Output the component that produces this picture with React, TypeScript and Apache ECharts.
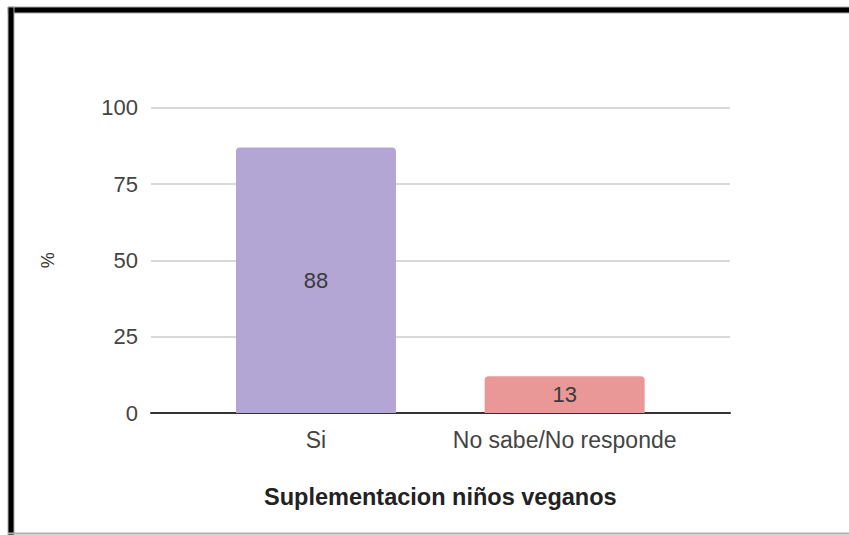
import React, { useEffect, useRef } from "react";
import * as echarts from "echarts";

const categories = ["Si", "No sabe/No responde"];
const values = [87, 12];
const valueLabels = ["88", "13"];
const barColors = ["#b3a6d5", "#e99797"];
const yTicks = [0, 25, 50, 75, 100];

export default function App() {
  const ref = useRef<HTMLDivElement>(null);
  useEffect(() => {
    if (!ref.current) return;
    const chart = echarts.init(ref.current, null, { renderer: "svg" });
    const font = "'Liberation Sans', Arial, sans-serif";
    chart.setOption({
      animation: false,
      backgroundColor: "#ffffff",
      grid: [
        { left: 151, right: 119, top: 107.7, bottom: 122 },
        { left: 191.6, right: 160, top: 107.7, bottom: 122 },
      ],
      xAxis: [
        {
          type: "category",
          gridIndex: 0,
          data: categories,
          axisLine: { show: true, lineStyle: { color: "#333333", width: 2 } },
          axisTick: { show: false },
          axisLabel: { show: false },
          splitLine: { show: false },
        },
        {
          type: "category",
          gridIndex: 1,
          data: categories,
          axisLine: { show: false },
          axisTick: { show: false },
          axisLabel: {
            show: true,
            interval: 0,
            margin: 15,
            color: "#444444",
            fontSize: 23,
            fontFamily: font,
          },
          name: "Suplementacion niños veganos",
          nameLocation: "middle",
          nameGap: 72,
          nameTextStyle: {
            color: "#222222",
            fontSize: 23.5,
            fontWeight: "bold",
            fontFamily: font,
          },
        },
      ],
      yAxis: [
        {
          type: "value",
          gridIndex: 0,
          min: yTicks[0],
          max: yTicks[yTicks.length - 1],
          interval: 25,
          axisLine: { show: false },
          axisTick: { show: false },
          axisLabel: {
            margin: 13,
            color: "#444444",
            fontSize: 22,
            fontFamily: font,
          },
          splitLine: { lineStyle: { color: "#cccccc", width: 1.5 } },
          name: "%",
          nameLocation: "middle",
          nameGap: 94,
          nameRotate: 90,
          nameTextStyle: { color: "#333333", fontSize: 18, fontFamily: font },
        },
        {
          type: "value",
          gridIndex: 1,
          min: 0,
          max: 100,
          show: false,
        },
      ],
      series: [
        {
          type: "bar",
          xAxisIndex: 1,
          yAxisIndex: 1,
          barWidth: 160,
          data: values.map((v, i) => ({
            value: v,
            itemStyle: { color: barColors[i], borderRadius: [4, 4, 0, 0] },
          })),
          label: {
            show: true,
            position: "inside",
            color: "#3a3a3a",
            fontSize: 22,
            fontFamily: font,
            formatter: (p: any) => valueLabels[p.dataIndex],
          },
          z: 3,
        },
      ],
      graphic: [
        {
          type: "rect",
          shape: { x: 8, y: 7, width: 845, height: 6 },
          style: { fill: "#000000", stroke: "#aaaaaa", lineWidth: 1 },
        },
        {
          type: "rect",
          shape: { x: 8, y: 7, width: 6, height: 530 },
          style: { fill: "#000000", stroke: "#aaaaaa", lineWidth: 1 },
        },
        {
          type: "line",
          shape: { x1: 8, y1: 533.5, x2: 849, y2: 533.5 },
          style: { stroke: "#b0b0b0", lineWidth: 2 },
        },
      ],
    });
    return () => chart.dispose();
  }, []);
  return (
    <div
      ref={ref}
      style={{ position: "fixed", left: 0, top: 0, width: 849, height: 535 }}
    />
  );
}
